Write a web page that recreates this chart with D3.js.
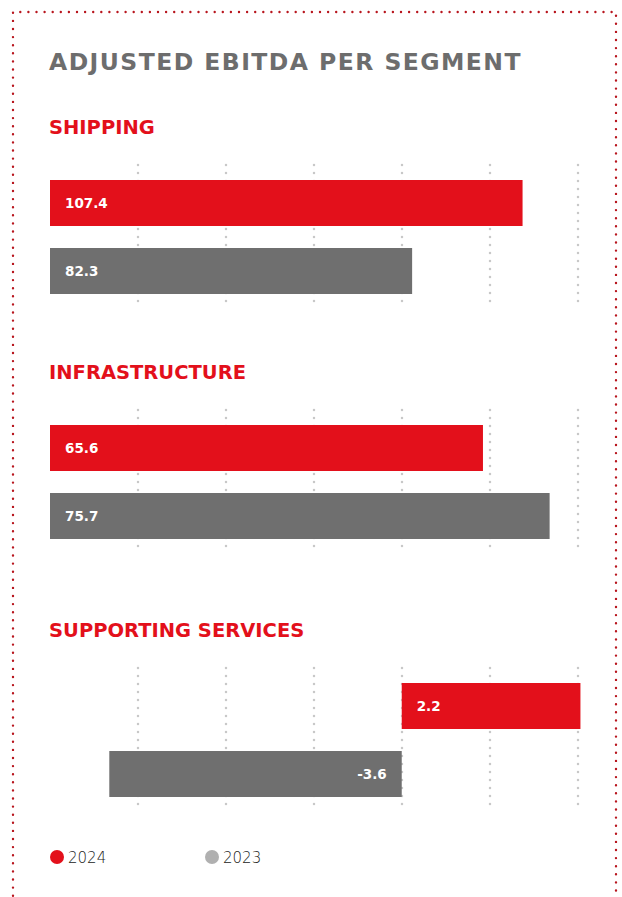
<!DOCTYPE html>
<html>
<head>
<meta charset="utf-8">
<script src="https://cdn.jsdelivr.net/npm/d3@7"></script>
<style>
  html, body { margin: 0; padding: 0; background: #ffffff; }
  svg { display: block; }
</style>
</head>
<body>
<svg id="chart" width="622" height="897"></svg>
<script>
// ---- data ----
const segments = ["SHIPPING", "INFRASTRUCTURE", "SUPPORTING SERVICES"];
const years = ["2024", "2023"];
const values2024 = [107.4, 65.6, 2.2];
const values2023 = [82.3, 75.7, -3.6];
const domainMin = [0, 0, -4.33];
const domainMax = [120, 80, 2.17];
const gridCount = 6;
const title = "ADJUSTED EBITDA PER SEGMENT";

// ---- style / layout ----
const RED = "#e3101b";
const GRAY = "#6f6f6f";
const LEGEND_GRAY = "#b0b0b0";
const BORDER = "#b8161e";
const GRID = "#c8c8c8";
const FONT = "'DejaVu Sans', sans-serif";

const svg = d3.select("#chart");
const plotLeft = 50, plotRight = 578;
const sectionTops = [180, 425, 683];
const barsSpan = 114;

// border
svg.append("path")
  .attr("d", d3.line()([[13, 920], [13, 12], [616, 12], [616, 920]]))
  .attr("fill", "none")
  .attr("stroke", BORDER)
  .attr("stroke-width", 2.4)
  .attr("stroke-linecap", "round")
  .attr("stroke-dasharray", "0 8.1");

// title
svg.append("text")
  .attr("x", 49)
  .attr("y", 70)
  .attr("font-family", FONT)
  .attr("font-weight", "bold")
  .attr("font-size", 23.5)
  .attr("letter-spacing", 1.45)
  .attr("fill", "#6d6d6d")
  .text(title);

const fmt = v => d3.format(".1f")(v).replace("\u2212", "-");

segments.forEach((seg, i) => {
  const top = sectionTops[i];
  const x = d3.scaleLinear().domain([domainMin[i], domainMax[i]]).range([plotLeft, plotRight]);
  const y = d3.scaleBand().domain(years).range([top, top + barsSpan]).paddingInner(0.3235).paddingOuter(0);
  const grid = d3.scaleLinear().domain([0, gridCount]).range([plotLeft, plotRight]);
  const g = svg.append("g");

  // section title
  g.append("text")
    .attr("x", 49)
    .attr("y", top - 46)
    .attr("font-family", FONT)
    .attr("font-weight", "bold")
    .attr("font-size", 19.5)
    .attr("fill", RED)
    .text(seg);

  // dotted gridlines
  g.selectAll("line.grid")
    .data(d3.range(1, gridCount + 1))
    .join("line")
    .attr("class", "grid")
    .attr("x1", d => grid(d)).attr("x2", d => grid(d))
    .attr("y1", top - 15).attr("y2", top + barsSpan + 9)
    .attr("stroke", GRID)
    .attr("stroke-width", 2.5)
    .attr("stroke-linecap", "round")
    .attr("stroke-dasharray", "0 8");

  const rows = [
    { year: "2024", value: values2024[i], color: RED },
    { year: "2023", value: values2023[i], color: GRAY }
  ];

  g.selectAll("rect.bar")
    .data(rows)
    .join("rect")
    .attr("class", "bar")
    .attr("x", d => Math.min(x(0), x(d.value)))
    .attr("width", d => Math.abs(x(d.value) - x(0)))
    .attr("y", d => y(d.year))
    .attr("height", y.bandwidth())
    .attr("fill", d => d.color);

  g.selectAll("text.val")
    .data(rows)
    .join("text")
    .attr("class", "val")
    .attr("x", d => d.value >= 0 ? x(0) + 15 : x(0) - 15)
    .attr("text-anchor", d => d.value >= 0 ? "start" : "end")
    .attr("y", d => y(d.year) + y.bandwidth() / 2)
    .attr("dy", "0.36em")
    .attr("font-family", FONT)
    .attr("font-weight", "bold")
    .attr("font-size", 13.5)
    .attr("fill", "#ffffff")
    .text(d => fmt(d.value));
});

// legend
const legend = [
  { label: "2024", color: RED, x: 57 },
  { label: "2023", color: LEGEND_GRAY, x: 212 }
];
const lg = svg.append("g").selectAll("g").data(legend).join("g")
  .attr("transform", d => `translate(${d.x},857)`);
lg.append("circle").attr("r", 7).attr("fill", d => d.color);
lg.append("text")
  .attr("x", 11)
  .attr("y", 6)
  .attr("font-family", FONT)
  .attr("font-weight", 300)
  .attr("font-size", 15)
  .attr("fill", "#222222")
  .text(d => d.label);
</script>
</body>
</html>
